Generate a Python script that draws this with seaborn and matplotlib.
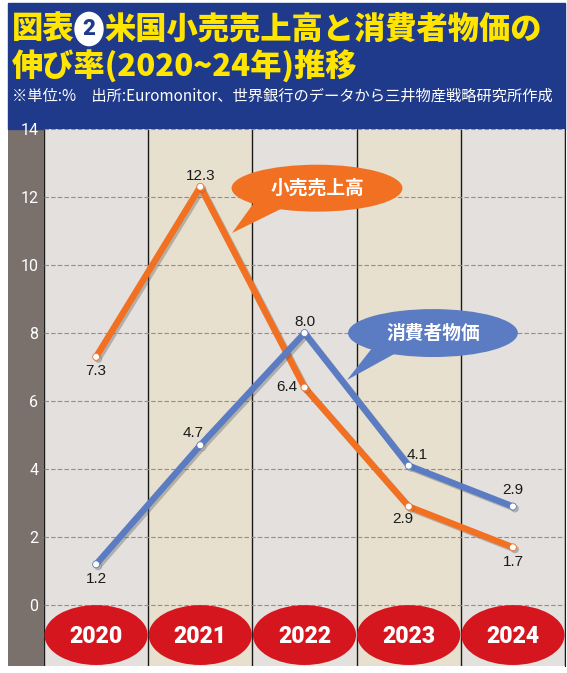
import numpy as np
import pandas as pd
import matplotlib
matplotlib.use("Agg")
import matplotlib.pyplot as plt
import matplotlib.patheffects as pe
from matplotlib.patches import Ellipse, Polygon, Rectangle, Circle
import seaborn as sns

# データ
years = ["2020", "2021", "2022", "2023", "2024"]
retail = [7.3, 12.3, 6.4, 2.9, 1.7]      # 小売売上高
cpi = [1.2, 4.7, 8.0, 4.1, 2.9]          # 消費者物価
yticks = [0, 2, 4, 6, 8, 10, 12, 14]

df = pd.DataFrame({"x": np.arange(len(years)), "retail": retail, "cpi": cpi})

sns.set_style("white")
plt.rcParams["font.family"] = ["Noto Sans CJK JP", "DejaVu Sans"]

W, H = 567, 673
fig = plt.figure(figsize=(W / 100, H / 100), dpi=100)


def fx(px):
    return px / W


def fy(py):
    return 1 - py / H


ORANGE = "#f27022"
BLUE = "#5b7cc2"
NAVY = "#1f3a8a"
RED = "#d5161f"

# ヘッダー
fig.patches.append(Rectangle((fx(8), fy(129)), fx(565) - fx(8), fy(3) - fy(129),
                             transform=fig.transFigure, color=NAVY, zorder=1))

# 左の灰色帯
strip = fig.add_axes([fx(8), fy(666), fx(44) - fx(8), fy(129) - fy(666)], zorder=0)
strip.set_facecolor("#7b716c")
strip.set_xticks([])
strip.set_yticks([])
for s in strip.spines.values():
    s.set_visible(False)

ax = fig.add_axes([fx(44), fy(666), fx(565) - fx(44), fy(129) - fy(666)], zorder=3)
ax.set_xlim(-0.5, 4.5)
ax.set_ylim(-1.79, 14)

# 列の背景
for i in range(len(years)):
    ax.axvspan(i - 0.5, i + 0.5, color="#e3e0dd" if i % 2 == 0 else "#e7e0cf", zorder=0, lw=0)
for i in range(len(years) + 1):
    ax.axvline(i - 0.5, color="#1a1a1a", lw=1.0, zorder=1)

for t in yticks:
    ax.axhline(t, color="#8f8f8f", lw=0.8, ls=(0, (4, 2)), zorder=1)

# 年のラベル（赤い楕円）
for i, yr in enumerate(years):
    ax.add_patch(Ellipse((i, -0.88), 0.99, 1.76, color=RED, zorder=2, lw=0))
    ax.text(i, -0.92, yr, ha="center", va="center", color="white", fontsize=16.5,
            fontweight="black", family=["Roboto", "DejaVu Sans"], zorder=3)

shadow = [pe.SimpleLineShadow(offset=(1.5, -1.5), shadow_color="#555555", alpha=0.35),
          pe.Normal()]
for col, c in [("retail", ORANGE), ("cpi", BLUE)]:
    sns.lineplot(data=df, x="x", y=col, ax=ax, color=c, lw=4.6, marker="o",
                 markersize=5, markerfacecolor="white", markeredgecolor=c,
                 markeredgewidth=0.6, zorder=5, path_effects=shadow)

# 数値ラベル（オフセットはpx）
retail_off = [(0, -14), (0, 11), (-18, 0), (-6, -13), (0, -15)]
cpi_off = [(0, -15), (-7, 12), (0, 11), (8, 11), (0, 16)]
for vals, offs in [(retail, retail_off), (cpi, cpi_off)]:
    for i, (v, (ox, oy)) in enumerate(zip(vals, offs)):
        ax.annotate(f"{v:.1f}", (i, v), xytext=(ox * 0.72, oy * 0.72),
                    textcoords="offset points", ha="center", va="center",
                    fontsize=11, color="#1a1a1a", family=["Liberation Sans", "DejaVu Sans"],
                    zorder=6)

# 吹き出し
def callout(cx, cy, w, h, tail, color, label):
    ax.add_patch(Polygon(tail, closed=True, color=color, lw=0, zorder=7))
    ax.add_patch(Ellipse((cx, cy), w, h, color=color, lw=0, zorder=7))
    ax.text(cx, cy, label, ha="center", va="center", color="white", fontsize=13.5,
            fontweight="bold", zorder=8)


callout(2.12, 12.26, 1.64, 1.38, [(1.52, 11.85), (1.82, 11.72), (1.304, 10.94)], ORANGE, "小売売上高")
callout(3.233, 8.0, 1.63, 1.41, [(2.68, 7.68), (2.90, 7.45), (2.408, 6.62)], BLUE, "消費者物価")

ax.set_xlabel("")
ax.set_ylabel("")
ax.set_xticks([])
ax.set_yticks(yticks)
ax.set_yticklabels([str(t) for t in yticks], color="white", fontsize=11.5,
                   family=["Roboto", "DejaVu Sans"])
ax.tick_params(axis="y", length=0, pad=4)
for name, s in ax.spines.items():
    s.set_visible(name == "right")
ax.spines["right"].set_color("#1a1a1a")

# タイトル
YEL = "#ffe500"
fig.text(fx(12), fy(29), "図表", color=YEL, fontsize=22.5, fontweight="black",
         ha="left", va="center", zorder=4)
fig.patches.append(Circle((fx(89), fy(29)), 14 / W, transform=fig.transFigure,
                          color="white", zorder=4))
fig.text(fx(89), fy(29), "2", color=NAVY, fontsize=16, fontweight="black",
         ha="center", va="center", family=["Roboto", "DejaVu Sans"], zorder=5)
fig.text(fx(104), fy(29), "米国小売売上高と消費者物価の", color=YEL, fontsize=22.5,
         fontweight="black", ha="left", va="center", zorder=4)
fig.text(fx(12), fy(66), "伸び率(2020~24年)推移", color=YEL, fontsize=22.5,
         fontweight="black", ha="left", va="center", zorder=4)
fig.text(fx(12), fy(96), "※単位:%　出所:Euromonitor、世界銀行のデータから三井物産戦略研究所作成",
         color="white", fontsize=11, ha="left", va="center", zorder=4)

fig.savefig("out.png", dpi=100)
